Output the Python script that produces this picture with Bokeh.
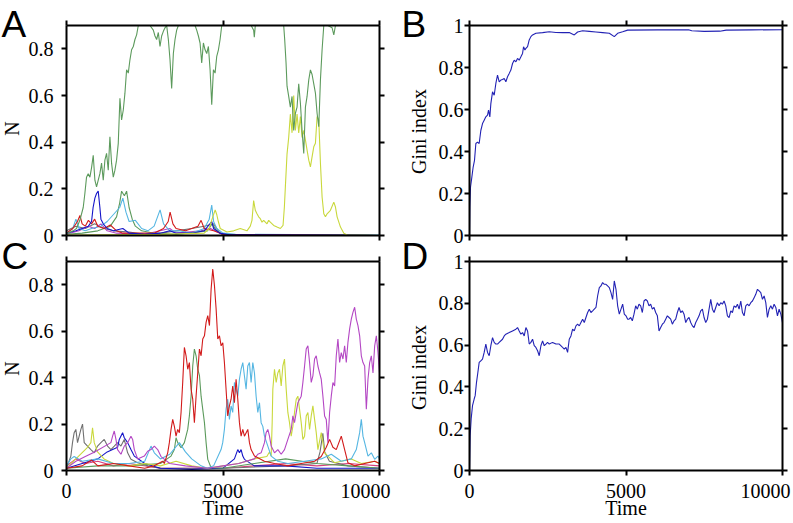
import math
from bokeh.plotting import figure
from bokeh.models import LinearAxis, FixedTicker, Label, Range1d
from bokeh.embed import file_html
from bokeh.resources import INLINE

# ---------------- data (time, value) ----------------
TIME_TICKS = [0, 5000, 10000]
TIME_LABELS = ["0", "5000", "10000"]
N_TICKS = [0, 0.2, 0.4, 0.6, 0.8]
N_LABELS = ["0", "0.2", "0.4", "0.6", "0.8"]
GINI_TICKS = [0, 0.2, 0.4, 0.6, 0.8, 1]
GINI_LABELS = ["0", "0.2", "0.4", "0.6", "0.8", "1"]
T_MAX = 10000
N_MAX = 0.9
GINI_MAX = 1.0

# Panel A
A_GREEN = [(0, 0.01), (107, 0.014), (213, 0.02), (320, 0.03), (427, 0.065), (534, 0.12), (587, 0.18),
           (640, 0.25), (694, 0.265), (747, 0.25), (800, 0.29), (854, 0.344), (907, 0.237), (960, 0.208),
           (1014, 0.237), (1067, 0.265), (1120, 0.31), (1174, 0.237), (1227, 0.323), (1280, 0.352),
           (1334, 0.28), (1387, 0.423), (1440, 0.31), (1494, 0.25), (1547, 0.28), (1600, 0.323),
           (1654, 0.395), (1707, 0.588), (1760, 0.495), (1814, 0.538), (1867, 0.61), (1920, 0.71),
           (1974, 0.696), (2027, 0.753), (2080, 0.796), (2134, 0.81), (2187, 0.84), (2240, 0.86),
           (2294, 0.9), (2347, 0.93), (2454, 0.96), (2560, 0.95), (2667, 0.93), (2774, 0.88),
           (2827, 0.855), (2880, 0.84), (2934, 0.87), (2987, 0.81), (3040, 0.855), (3094, 0.875),
           (3147, 0.89), (3200, 0.9), (3254, 0.84), (3307, 0.753), (3360, 0.63), (3414, 0.78),
           (3467, 0.84), (3520, 0.88), (3574, 0.92), (3680, 0.95), (3840, 0.97), (4000, 0.94),
           (4107, 0.9), (4160, 0.88), (4214, 0.855), (4267, 0.825), (4320, 0.74), (4374, 0.825),
           (4427, 0.796), (4480, 0.78), (4534, 0.81), (4587, 0.71), (4640, 0.56), (4694, 0.71),
           (4747, 0.696), (4800, 0.768), (4854, 0.796), (4907, 0.84), (4960, 0.9), (5050, 0.94),
           (5500, 0.97), (5900, 0.92), (5979, 0.88), (6000, 0.85), (6032, 0.9), (6200, 0.95),
           (6600, 0.97), (6939, 0.93), (6971, 0.84), (7014, 0.74), (7046, 0.64), (7099, 0.596),
           (7152, 0.55), (7206, 0.596), (7259, 0.45), (7313, 0.524), (7366, 0.55), (7419, 0.65),
           (7473, 0.567), (7526, 0.45), (7580, 0.352), (7633, 0.55), (7686, 0.596), (7740, 0.667),
           (7793, 0.71), (7846, 0.69), (7900, 0.65), (7953, 0.61), (8006, 0.524), (8060, 0.466),
           (8113, 0.667), (8166, 0.796), (8220, 0.9), (8350, 0.95), (8486, 0.89), (8540, 0.86),
           (8593, 0.9), (8800, 0.96), (10000, 0.97)]
A_YELLOW = [(0, 0.002), (3000, 0.005), (4400, 0.01), (4560, 0.03), (4650, 0.07), (4750, 0.11),
            (4800, 0.09), (4850, 0.06), (4912, 0.03), (5125, 0.015), (5339, 0.02), (5552, 0.03),
            (5766, 0.02), (5872, 0.04), (5926, 0.065), (5979, 0.15), (6032, 0.108), (6086, 0.093),
            (6139, 0.08), (6192, 0.072), (6246, 0.057), (6299, 0.065), (6406, 0.05), (6459, 0.065),
            (6512, 0.057), (6619, 0.043), (6726, 0.036), (6833, 0.03), (6918, 0.043), (6961, 0.122),
            (6993, 0.21), (7046, 0.35), (7099, 0.42), (7152, 0.52), (7206, 0.44), (7259, 0.6),
            (7313, 0.45), (7366, 0.52), (7419, 0.44), (7473, 0.51), (7526, 0.42), (7580, 0.45),
            (7633, 0.41), (7686, 0.366), (7740, 0.323), (7793, 0.294), (7846, 0.337), (7900, 0.38),
            (7953, 0.395), (8006, 0.51), (8060, 0.495), (8113, 0.31), (8166, 0.165), (8220, 0.093),
            (8273, 0.08), (8326, 0.093), (8433, 0.108), (8540, 0.143), (8593, 0.122), (8646, 0.08),
            (8753, 0.036), (8860, 0.01), (8966, 0.002), (10000, 0.0)]
A_BLUE = [(0, 0.01), (300, 0.02), (500, 0.03), (700, 0.04), (800, 0.06), (850, 0.12), (907, 0.16),
          (960, 0.18), (1013, 0.19), (1067, 0.12), (1100, 0.07), (1174, 0.05), (1300, 0.03),
          (1500, 0.02), (1800, 0.03), (2000, 0.01), (2500, 0.005), (3000, 0.01), (3300, 0.02),
          (3500, 0.01), (4000, 0.01), (4400, 0.02), (4640, 0.06), (4700, 0.03), (4900, 0.01),
          (5200, 0.003), (10000, 0.0)]
A_RED = [(0, 0.01), (200, 0.03), (350, 0.06), (430, 0.086), (500, 0.05), (600, 0.04), (700, 0.065),
         (800, 0.05), (900, 0.07), (1000, 0.04), (1200, 0.03), (1400, 0.045), (1600, 0.02),
         (1800, 0.01), (2200, 0.01), (2800, 0.01), (3100, 0.03), (3250, 0.06), (3310, 0.1),
         (3400, 0.05), (3500, 0.03), (3800, 0.02), (4200, 0.04), (4300, 0.065), (4400, 0.03),
         (4700, 0.02), (5000, 0.005), (10000, 0.0)]
A_CYAN = [(0, 0.01), (200, 0.03), (300, 0.07), (400, 0.03), (600, 0.02), (800, 0.03), (1100, 0.04),
          (1300, 0.06), (1500, 0.09), (1700, 0.12), (1800, 0.16), (1900, 0.1), (2000, 0.06),
          (2200, 0.065), (2400, 0.03), (2600, 0.02), (2800, 0.04), (2990, 0.11), (3100, 0.05),
          (3300, 0.02), (3600, 0.02), (4000, 0.01), (4400, 0.03), (4560, 0.07), (4640, 0.13),
          (4700, 0.06), (4800, 0.03), (5000, 0.01), (5400, 0.005), (10000, 0.002)]
A_GREEN2 = [(0, 0.005), (500, 0.01), (1000, 0.02), (1400, 0.04), (1600, 0.08), (1700, 0.14),
            (1760, 0.19), (1850, 0.17), (1920, 0.19), (2000, 0.12), (2100, 0.07), (2200, 0.04),
            (2400, 0.02), (2800, 0.01), (3500, 0.005), (4500, 0.02), (4650, 0.05), (4800, 0.02),
            (5000, 0.003), (10000, 0.0)]
A_PURPLE = [(0, 0.005), (400, 0.02), (700, 0.04), (900, 0.03), (1100, 0.05), (1300, 0.02),
            (1600, 0.01), (2500, 0.005), (3300, 0.03), (3500, 0.01), (4300, 0.02), (4600, 0.03),
            (5000, 0.003), (10000, 0.0)]
A_GRAY = [(0, 0.02), (300, 0.04), (600, 0.03), (900, 0.05), (1200, 0.03), (1500, 0.02), (2000, 0.015),
          (2500, 0.005), (3000, 0.01), (3500, 0.02), (4000, 0.03), (4400, 0.04), (4700, 0.05),
          (4900, 0.01), (5100, 0.002), (10000, 0.0)]

# Panel C
C_RED = [(0, 0.01), (500, 0.02), (800, 0.045), (1000, 0.02), (1500, 0.03), (2000, 0.02), (2500, 0.01),
         (2800, 0.02), (3073, 0.04), (3126, 0.03), (3233, 0.076), (3286, 0.12), (3340, 0.177),
         (3393, 0.22), (3446, 0.19), (3500, 0.148), (3553, 0.177), (3606, 0.163), (3660, 0.25),
         (3713, 0.38), (3766, 0.53), (3820, 0.494), (3873, 0.436), (3926, 0.465), (3980, 0.35),
         (4033, 0.307), (4086, 0.206), (4140, 0.32), (4193, 0.42), (4247, 0.523), (4300, 0.494),
         (4353, 0.566), (4407, 0.58), (4460, 0.638), (4513, 0.667), (4567, 0.624), (4620, 0.78),
         (4673, 0.868), (4727, 0.796), (4780, 0.696), (4833, 0.566), (4887, 0.58), (4940, 0.537),
         (4993, 0.55), (5045, 0.465), (5098, 0.35), (5151, 0.235), (5205, 0.278), (5258, 0.307),
         (5311, 0.364), (5365, 0.292), (5418, 0.393), (5472, 0.307), (5525, 0.206), (5578, 0.148),
         (5632, 0.177), (5685, 0.148), (5792, 0.177), (5845, 0.12), (5898, 0.09), (6005, 0.062),
         (6112, 0.055), (6325, 0.04), (6645, 0.03), (7072, 0.02), (7499, 0.03), (7926, 0.04),
         (8139, 0.06), (8299, 0.1), (8406, 0.134), (8512, 0.1), (8619, 0.09), (8779, 0.148),
         (8886, 0.09), (8992, 0.033), (9206, 0.02), (9526, 0.03), (9846, 0.04), (10000, 0.03)]
C_GREEN = [(0, 0.01), (1000, 0.02), (2000, 0.02), (3000, 0.03), (3340, 0.062), (3446, 0.09),
           (3500, 0.141), (3553, 0.12), (3660, 0.098), (3766, 0.12), (3873, 0.177), (3926, 0.235),
           (3980, 0.32), (4033, 0.45), (4086, 0.523), (4140, 0.494), (4193, 0.436), (4247, 0.41),
           (4300, 0.32), (4353, 0.263), (4407, 0.206), (4460, 0.12), (4513, 0.048), (4620, 0.012),
           (5000, 0.01), (6000, 0.03), (7000, 0.05), (8000, 0.03), (9000, 0.02), (10000, 0.01)]
C_CYAN = [(0, 0.02), (139, 0.05), (245, 0.06), (500, 0.04), (1000, 0.05), (1500, 0.03), (2000, 0.03),
          (2500, 0.04), (2700, 0.105), (2806, 0.076), (3000, 0.05), (3300, 0.07), (3606, 0.12),
          (3800, 0.08), (4000, 0.05), (4300, 0.02), (4500, 0.01), (4700, 0.02), (4938, 0.09),
          (4991, 0.12), (5045, 0.177), (5098, 0.264), (5151, 0.307), (5205, 0.22), (5258, 0.278),
          (5311, 0.25), (5365, 0.379), (5418, 0.35), (5472, 0.32), (5525, 0.393), (5578, 0.436),
          (5632, 0.465), (5685, 0.407), (5738, 0.35), (5792, 0.45), (5845, 0.465), (5898, 0.379),
          (5952, 0.465), (6005, 0.42), (6058, 0.32), (6112, 0.25), (6165, 0.292), (6218, 0.206),
          (6272, 0.19), (6325, 0.148), (6432, 0.105), (6539, 0.062), (6752, 0.04), (7072, 0.03),
          (7606, 0.04), (8139, 0.05), (8459, 0.07), (8779, 0.04), (9099, 0.05), (9259, 0.09),
          (9366, 0.163), (9419, 0.22), (9472, 0.148), (9526, 0.12), (9632, 0.062), (9739, 0.076),
          (9846, 0.048), (9952, 0.062), (10000, 0.05)]
C_YELLOW = [(0, 0.01), (672, 0.1), (779, 0.12), (832, 0.184), (886, 0.12), (992, 0.08), (1200, 0.05),
            (1500, 0.03), (2000, 0.02), (2500, 0.03), (3000, 0.02), (3500, 0.04), (4000, 0.02),
            (4500, 0.01), (5000, 0.02), (5500, 0.03), (6000, 0.05), (6400, 0.06), (6485, 0.08),
            (6539, 0.062), (6571, 0.206), (6592, 0.35), (6645, 0.436), (6699, 0.379), (6752, 0.42),
            (6805, 0.436), (6859, 0.364), (6912, 0.45), (6965, 0.48), (7019, 0.35), (7072, 0.25),
            (7125, 0.206), (7179, 0.148), (7232, 0.19), (7285, 0.25), (7339, 0.307), (7392, 0.32),
            (7445, 0.264), (7499, 0.206), (7552, 0.134), (7606, 0.148), (7659, 0.235), (7712, 0.25),
            (7766, 0.177), (7819, 0.235), (7872, 0.278), (7926, 0.22), (7979, 0.163), (8032, 0.09),
            (8139, 0.163), (8192, 0.12), (8246, 0.076), (8352, 0.062), (8566, 0.033), (8779, 0.04),
            (9099, 0.05), (9419, 0.03), (9846, 0.04), (10000, 0.03)]
C_PURPLE = [(0, 0.01), (300, 0.04), (600, 0.06), (900, 0.08), (1419, 0.12), (1473, 0.148),
            (1526, 0.17), (1580, 0.134), (1632, 0.09), (1739, 0.07), (1846, 0.105), (1953, 0.12),
            (2059, 0.148), (2113, 0.134), (2166, 0.09), (2273, 0.05), (2486, 0.062), (2593, 0.083),
            (2700, 0.09), (2806, 0.105), (2913, 0.09), (3020, 0.06), (3300, 0.03), (3800, 0.02),
            (4500, 0.01), (5000, 0.02), (5500, 0.03), (6000, 0.05), (6112, 0.07), (6218, 0.076),
            (6325, 0.12), (6378, 0.163), (6432, 0.177), (6485, 0.148), (6539, 0.105), (6645, 0.076),
            (6752, 0.09), (6859, 0.07), (6965, 0.09), (7072, 0.134), (7179, 0.177), (7232, 0.235),
            (7285, 0.206), (7392, 0.292), (7499, 0.32), (7552, 0.379), (7606, 0.45), (7659, 0.523),
            (7712, 0.537), (7766, 0.465), (7819, 0.379), (7872, 0.407), (7926, 0.48), (7979, 0.494),
            (8032, 0.45), (8086, 0.42), (8139, 0.393), (8192, 0.32), (8246, 0.235), (8299, 0.22),
            (8352, 0.12), (8406, 0.25), (8459, 0.32), (8512, 0.379), (8566, 0.364), (8619, 0.494),
            (8672, 0.566), (8726, 0.465), (8779, 0.508), (8832, 0.48), (8886, 0.537), (8939, 0.465),
            (8992, 0.552), (9046, 0.61), (9099, 0.652), (9152, 0.681), (9206, 0.703), (9259, 0.652),
            (9312, 0.624), (9366, 0.58), (9419, 0.494), (9472, 0.465), (9526, 0.45), (9579, 0.264),
            (9632, 0.393), (9686, 0.465), (9739, 0.494), (9792, 0.42), (9846, 0.537), (9899, 0.58),
            (9952, 0.508), (10000, 0.42)]
C_GRAY = [(0, 0.01), (139, 0.062), (192, 0.12), (245, 0.163), (299, 0.177), (352, 0.12), (405, 0.148),
          (459, 0.177), (512, 0.2), (566, 0.12), (672, 0.105), (779, 0.09), (886, 0.076), (992, 0.105),
          (1099, 0.12), (1206, 0.134), (1312, 0.105), (1419, 0.09), (1526, 0.105), (1632, 0.12),
          (1739, 0.105), (1846, 0.134), (1953, 0.076), (2059, 0.048), (2273, 0.033), (2600, 0.02),
          (3000, 0.01), (5000, 0.01), (7000, 0.02), (8000, 0.03), (8100, 0.08), (8190, 0.16),
          (8250, 0.08), (8400, 0.04), (9000, 0.02), (10000, 0.01)]
C_BLUE = [(0, 0.01), (500, 0.03), (1000, 0.05), (1300, 0.08), (1632, 0.1), (1686, 0.134), (1792, 0.163),
          (1846, 0.141), (1953, 0.12), (2059, 0.09), (2166, 0.062), (2500, 0.03), (3000, 0.01),
          (4000, 0.005), (5000, 0.01), (5365, 0.05), (5472, 0.09), (5525, 0.076), (5578, 0.09),
          (5632, 0.062), (5685, 0.048), (6000, 0.02), (7000, 0.02), (8000, 0.01), (10000, 0.01)]
C_PINK = [(0, 0.02), (300, 0.05), (600, 0.03), (1000, 0.04), (1500, 0.02), (2000, 0.03), (3000, 0.01),
          (4000, 0.01), (5000, 0.01), (6000, 0.02), (7000, 0.03), (8000, 0.02), (9000, 0.03),
          (10000, 0.02)]

# Panel B (Gini index)
B_GINI = [(0, 0.0), (11, 0.135), (32, 0.23), (75, 0.278), (117, 0.326), (160, 0.358), (203, 0.438),
          (256, 0.445), (309, 0.438), (362, 0.5), (416, 0.533), (469, 0.549), (522, 0.565), (576, 0.573),
          (608, 0.597), (650, 0.565), (682, 0.628), (736, 0.684), (789, 0.668), (842, 0.724),
          (895, 0.764), (949, 0.732), (1002, 0.74), (1055, 0.743), (1109, 0.748), (1162, 0.732),
          (1215, 0.756), (1269, 0.772), (1322, 0.788), (1375, 0.819), (1428, 0.835), (1482, 0.827),
          (1535, 0.843), (1588, 0.835), (1642, 0.851), (1695, 0.867), (1727, 0.899), (1770, 0.883),
          (1802, 0.891), (1855, 0.899), (1908, 0.931), (1961, 0.947), (2015, 0.955), (2121, 0.963),
          (2335, 0.966), (2548, 0.97), (2761, 0.967), (2974, 0.966), (3187, 0.967), (3347, 0.955),
          (3454, 0.969), (3614, 0.975), (3827, 0.972), (4040, 0.969), (4253, 0.966), (4467, 0.963),
          (4626, 0.947), (4733, 0.963), (4893, 0.97), (5053, 0.978), (6000, 0.979), (7000, 0.98),
          (7100, 0.975), (7500, 0.972), (8000, 0.973), (8200, 0.978), (9000, 0.979), (10000, 0.98)]

# Panel D (Gini index)
D_GINI = [(0, 0.0), (21, 0.167), (53, 0.247), (96, 0.31), (149, 0.342), (181, 0.358), (224, 0.422),
          (267, 0.469), (309, 0.517), (362, 0.525), (416, 0.533), (469, 0.565), (522, 0.605),
          (576, 0.565), (629, 0.549), (682, 0.597), (736, 0.636), (789, 0.613), (842, 0.605),
          (895, 0.605), (949, 0.613), (1055, 0.628), (1109, 0.644), (1162, 0.652), (1269, 0.66),
          (1375, 0.668), (1482, 0.676), (1535, 0.684), (1588, 0.668), (1642, 0.652), (1695, 0.66),
          (1748, 0.644), (1802, 0.684), (1855, 0.668), (1908, 0.605), (1961, 0.613), (2015, 0.628),
          (2068, 0.597), (2121, 0.589), (2175, 0.573), (2228, 0.549), (2281, 0.597), (2335, 0.62),
          (2388, 0.597), (2441, 0.605), (2494, 0.613), (2548, 0.605), (2654, 0.613), (2761, 0.605),
          (2868, 0.605), (2974, 0.589), (3028, 0.581), (3081, 0.589), (3134, 0.565), (3187, 0.628),
          (3241, 0.644), (3294, 0.676), (3347, 0.668), (3401, 0.692), (3454, 0.7), (3507, 0.692),
          (3560, 0.708), (3614, 0.724), (3667, 0.708), (3720, 0.732), (3774, 0.756), (3827, 0.772),
          (3880, 0.756), (3934, 0.764), (3987, 0.772), (4040, 0.78), (4093, 0.835), (4147, 0.875),
          (4200, 0.883), (4253, 0.899), (4307, 0.891), (4360, 0.891), (4413, 0.883), (4467, 0.875),
          (4520, 0.851), (4573, 0.819), (4626, 0.907), (4680, 0.867), (4733, 0.788), (4786, 0.748),
          (4840, 0.772), (4893, 0.796), (4946, 0.748), (5000, 0.74), (5053, 0.724), (5096, 0.724),
          (5149, 0.732), (5202, 0.716), (5255, 0.748), (5309, 0.788), (5362, 0.772), (5415, 0.796),
          (5469, 0.788), (5522, 0.756), (5575, 0.811), (5629, 0.819), (5682, 0.811), (5735, 0.788),
          (5788, 0.796), (5842, 0.772), (5895, 0.78), (5948, 0.756), (6002, 0.74), (6055, 0.668),
          (6108, 0.684), (6162, 0.7), (6215, 0.708), (6268, 0.724), (6321, 0.74), (6375, 0.732),
          (6428, 0.724), (6481, 0.7), (6535, 0.716), (6588, 0.724), (6641, 0.756), (6695, 0.78),
          (6748, 0.756), (6801, 0.764), (6854, 0.748), (6908, 0.708), (6961, 0.724), (7014, 0.732),
          (7068, 0.708), (7121, 0.692), (7174, 0.684), (7228, 0.708), (7281, 0.724), (7334, 0.74),
          (7387, 0.764), (7441, 0.772), (7494, 0.732), (7547, 0.708), (7601, 0.724), (7654, 0.772),
          (7707, 0.819), (7761, 0.772), (7814, 0.756), (7867, 0.78), (7920, 0.803), (7974, 0.788),
          (8027, 0.803), (8080, 0.796), (8134, 0.811), (8187, 0.788), (8240, 0.74), (8294, 0.732),
          (8347, 0.764), (8400, 0.756), (8453, 0.788), (8507, 0.78), (8560, 0.796), (8613, 0.772),
          (8667, 0.811), (8720, 0.756), (8773, 0.74), (8827, 0.788), (8880, 0.796), (8933, 0.788),
          (8986, 0.803), (9040, 0.811), (9093, 0.827), (9146, 0.843), (9200, 0.867), (9253, 0.859),
          (9306, 0.851), (9360, 0.819), (9413, 0.835), (9466, 0.803), (9519, 0.732), (9573, 0.772),
          (9626, 0.788), (9679, 0.772), (9732, 0.796), (9786, 0.78), (9839, 0.74), (9892, 0.772),
          (9946, 0.748), (10000, 0.708)]

# ---------------- styling ----------------
SERIF = "Liberation Serif"
SANS = "Liberation Sans"
GREEN = "#5c9a5c"
YELLOW = "#c9d83c"
BLUE = "#1414c8"
RED = "#d21a1a"
CYAN = "#55b6e2"
PURPLE = "#b447c4"
GRAY = "#707070"
PINK = "#d8407c"
GINI_BLUE = "#2222b4"
FONT_PX = "20px"

# one canvas for the whole figure; plotting boxes in canvas pixels
CANVAS_W, CANVAS_H = 793, 523
COL_LEFT = (66, 379)      # left/right edge of boxes A and C
COL_RIGHT = (469, 782)    # left/right edge of boxes B and D
ROW_TOP = (25, 235)       # top/bottom edge of boxes A and B
ROW_BOTTOM = (261, 470)   # top/bottom edge of boxes C and D


def x_range_for(col):
    l, r = col
    xpp = T_MAX / (r - l)
    return Range1d(-l * xpp, (CANVAS_W - l) * xpp)


def y_range_for(rw, ymax):
    t, b = rw
    ypp = ymax / (b - t)
    return Range1d(-(CANVAS_H - b) * ypp, b * ypp)


p = figure(width=CANVAS_W, height=CANVAS_H,
           x_range=x_range_for(COL_LEFT), y_range=y_range_for(ROW_TOP, N_MAX),
           x_axis_location=None, y_axis_location=None,
           output_backend="svg", toolbar_location=None,
           min_border_left=0, min_border_right=0, min_border_top=0, min_border_bottom=0)
p.extra_x_ranges = {"right_col": x_range_for(COL_RIGHT)}
p.extra_y_ranges = {"top_gini": y_range_for(ROW_TOP, GINI_MAX),
                    "bottom_n": y_range_for(ROW_BOTTOM, N_MAX),
                    "bottom_gini": y_range_for(ROW_BOTTOM, GINI_MAX)}
p.xgrid.visible = False
p.ygrid.visible = False
p.outline_line_color = None
p.background_fill_color = "white"
p.border_fill_color = "white"


def make_axis(xr, yr, ticks, labels, show_labels, standoff, loc, bounds):
    ax = LinearAxis(x_range_name=xr, y_range_name=yr)
    ax.fixed_location = loc
    ax.bounds = bounds
    ax.ticker = FixedTicker(ticks=ticks)
    ax.major_label_overrides = {t: s for t, s in zip(ticks, labels)}
    ax.minor_tick_line_color = None
    ax.major_tick_in = 0
    ax.major_tick_out = 5
    ax.major_tick_line_width = 2
    ax.major_tick_line_color = "black"
    ax.axis_line_width = 2
    ax.axis_line_color = "black"
    ax.major_label_text_font = SERIF
    ax.major_label_text_font_size = FONT_PX if show_labels else "0px"
    ax.major_label_text_color = "black"
    ax.major_label_standoff = standoff
    return ax


def panel(xr, yr, ymax, yticks, ylabels, ystandoff, series, letter_txt, letter_dx, letter_dy,
          ylabel_txt, ylabel_dx, ylabel_dy, time_labels, last_dx=0):
    p.add_layout(make_axis(xr, yr, yticks, ylabels, True, ystandoff, 0, (0, ymax)), "left")
    p.add_layout(make_axis(xr, yr, yticks, ylabels, False, 0, T_MAX, (0, ymax)), "right")
    p.add_layout(make_axis(xr, yr, TIME_TICKS, TIME_LABELS, False, 0, 0, (0, T_MAX)), "below")
    p.add_layout(make_axis(xr, yr, TIME_TICKS, TIME_LABELS, False, 0, ymax, (0, T_MAX)), "above")
    for s, c in series:
        xs = [a for a, b in s]
        ys = [min(b, ymax) for a, b in s]   # the box clips the curve at its top
        p.line(xs, ys, line_color=c, line_width=1.1, x_range_name=xr, y_range_name=yr)
    # panel letter (anchored at its vertical middle)
    p.add_layout(Label(x=0, y=ymax, x_offset=letter_dx, y_offset=letter_dy, text=letter_txt,
                       text_font=SANS, text_font_size="37px", text_color="black",
                       text_align="left", text_baseline="middle",
                       x_range_name=xr, y_range_name=yr))
    # y axis title
    p.add_layout(Label(x=0, y=0, x_offset=ylabel_dx, y_offset=ylabel_dy, text=ylabel_txt,
                       text_font=SERIF, text_font_size=FONT_PX, text_color="black",
                       text_align="center", text_baseline="middle", angle=math.pi / 2,
                       x_range_name=xr, y_range_name=yr))
    if time_labels:
        for t, s in zip(TIME_TICKS, TIME_LABELS):
            last = t == TIME_TICKS[-1]
            p.add_layout(Label(x=t, y=0, text=s, text_font=SERIF, text_font_size=FONT_PX,
                               text_color="black", text_align="right" if last else "center",
                               text_baseline="middle", x_offset=last_dx if last else 0,
                               y_offset=-20, x_range_name=xr, y_range_name=yr))
        p.add_layout(Label(x=T_MAX / 2, y=0, text="Time", text_font=SERIF, text_font_size=FONT_PX,
                           text_color="black", text_align="center", text_baseline="middle",
                           y_offset=-37, x_range_name=xr, y_range_name=yr))


panel("default", "default", N_MAX, N_TICKS, N_LABELS, 8,
      [(A_GRAY, GRAY), (A_PURPLE, PURPLE), (A_GREEN2, GREEN), (A_CYAN, CYAN), (A_RED, RED),
       (A_BLUE, BLUE), (A_YELLOW, YELLOW), (A_GREEN, GREEN)],
      "A", -65, 1.5, "N", -55, 107, False)
panel("right_col", "top_gini", GINI_MAX, GINI_TICKS, GINI_LABELS, 1,
      [(B_GINI, GINI_BLUE)],
      "B", -68, 1.5, "Gini index", -51, 104, False)
panel("default", "bottom_n", N_MAX, N_TICKS, N_LABELS, 8,
      [(C_PINK, PINK), (C_GRAY, GRAY), (C_BLUE, BLUE), (C_GREEN, GREEN), (C_YELLOW, YELLOW),
       (C_CYAN, CYAN), (C_PURPLE, PURPLE), (C_RED, RED)],
      "C", -65, 5, "N", -55, 102, True, 11)
panel("right_col", "bottom_gini", GINI_MAX, GINI_TICKS, GINI_LABELS, 1,
      [(D_GINI, GINI_BLUE)],
      "D", -68, 5, "Gini index", -51, 103, True, 8)

open("out.html", "w").write(file_html(p, INLINE))
